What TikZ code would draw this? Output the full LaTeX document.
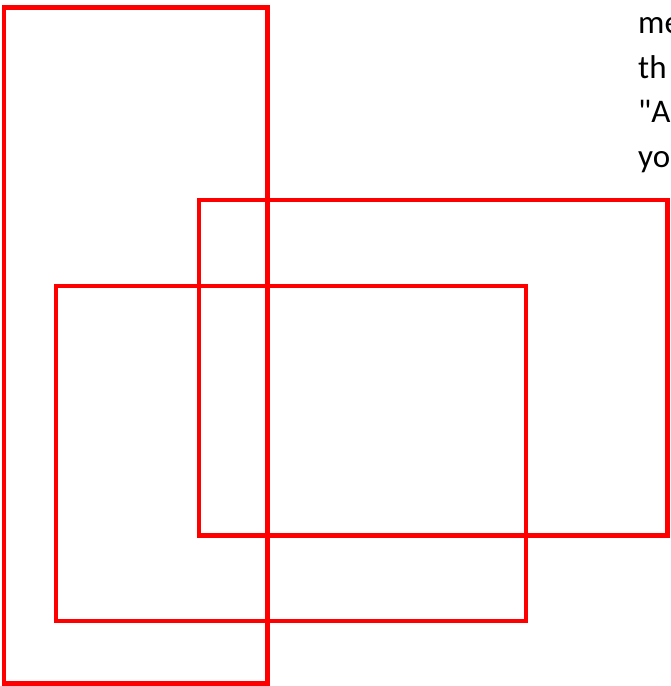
\documentclass[tikz,border=0pt]{standalone}
\usepackage{fontspec}
\setmainfont{Carlito}[Ligatures=TeXOff]
\usepackage{tikz}
\usetikzlibrary{positioning}
\definecolor{framered}{RGB}{255,0,0}
\tikzset{
  framebox/.style={draw=framered,line width=4.6pt,miter limit=10},
  noteline/.style={anchor=base west,inner sep=0pt,font=\fontsize{33}{40}\selectfont,text=black}
}

\begin{document}
\begin{tikzpicture}[x=1pt,y=-1pt]
  \clip (0,0) rectangle (670,686);
  \fill[white] (0,0) rectangle (670,686);

  %% frames
  \draw[framebox] (4,7.5) rectangle (267.5,683.5);
  \draw[framebox] (199,200) rectangle (667.5,535.5);
  \draw[framebox] (56,286) rectangle (526,621);

  %% note text, cut off at the right edge
  \node[noteline] (note1) at (638,33) {me};
  \node[noteline] (note2) at (638,78) {th};
  \node[noteline] (note3) at (638,122.5) {"A};
  \node[noteline] (note4) at (638,167.5) {yo};
\end{tikzpicture}
\end{document}
